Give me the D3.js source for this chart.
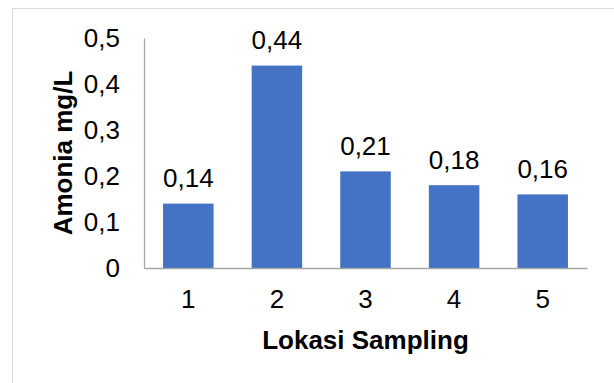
<!DOCTYPE html>
<html>
<head>
<meta charset="utf-8">
<script src="https://cdn.jsdelivr.net/npm/d3@7"></script>
<style>
  html, body { margin: 0; padding: 0; background: #fff; }
  svg { display: block; font-family: "Liberation Sans", Arial, sans-serif; }
</style>
</head>
<body>
<svg id="chart" width="614" height="383"></svg>
<script>
// Ammonia concentration per sampling location
const locations = ["1", "2", "3", "4", "5"];
const ammonia = [0.14, 0.44, 0.21, 0.18, 0.16];
const yTicks = [0, 0.1, 0.2, 0.3, 0.4, 0.5];

const fmt = v => String(v).replace(".", ",");
const FONT = "Liberation Sans, Arial, sans-serif";
const FS = 26;

const svg = d3.select("#chart");
const margin = { left: 144, right: 27, top: 38, bottom: 115 };
const W = 614, H = 383;

// outer chart frame
svg.append("rect")
  .attr("x", 12.5).attr("y", 8.5)
  .attr("width", 700).attr("height", 500)
  .attr("fill", "none").attr("stroke", "#d9d9d9").attr("stroke-width", 1);

const x = d3.scaleBand()
  .domain(locations)
  .range([margin.left, W - margin.right])
  .paddingInner(0.43).paddingOuter(0.215);

const y = d3.scaleLinear()
  .domain([0, 0.5])
  .range([H - margin.bottom, margin.top]);

// bars
svg.append("g").selectAll("rect")
  .data(ammonia)
  .join("rect")
  .attr("x", (d, i) => x(locations[i]))
  .attr("y", d => y(d))
  .attr("width", x.bandwidth())
  .attr("height", d => y(0) - y(d))
  .attr("fill", "#4472c4");

// value labels
svg.append("g").selectAll("text")
  .data(ammonia)
  .join("text")
  .attr("x", (d, i) => x(locations[i]) + x.bandwidth() / 2)
  .attr("y", d => y(d) - 16.5)
  .attr("text-anchor", "middle")
  .attr("font-family", FONT)
  .attr("font-size", FS)
  .attr("fill", "#000")
  .text(d => fmt(d));

// y axis
const yAxis = svg.append("g")
  .attr("transform", `translate(${margin.left},0)`)
  .call(d3.axisLeft(y).tickValues(yTicks).tickSize(0).tickPadding(24).tickFormat(fmt));
yAxis.select(".domain").attr("stroke", "#a6a6a6").attr("stroke-width", 1.3);
yAxis.selectAll("text")
  .attr("font-size", FS).attr("fill", "#000").attr("font-family", FONT)
  .attr("dy", "0.34em");

// x axis
const xAxis = svg.append("g")
  .attr("transform", `translate(0,${y(0)})`)
  .call(d3.axisBottom(x).tickSize(0).tickPadding(22));
xAxis.select(".domain").attr("stroke", "#a6a6a6").attr("stroke-width", 1.3);
xAxis.selectAll("text")
  .attr("font-size", FS).attr("fill", "#000").attr("font-family", FONT);

// axis titles
svg.append("text")
  .attr("x", (margin.left + W - margin.right) / 2)
  .attr("y", 349)
  .attr("text-anchor", "middle")
  .attr("font-family", FONT)
  .attr("font-size", FS).attr("font-weight", "bold")
  .text("Lokasi Sampling");

svg.append("text")
  .attr("transform", `translate(72,${(y(0) + y(0.5)) / 2}) rotate(-90)`)
  .attr("text-anchor", "middle")
  .attr("font-family", FONT)
  .attr("font-size", FS).attr("font-weight", "bold")
  .text("Amonia mg/L");
</script>
</body>
</html>
